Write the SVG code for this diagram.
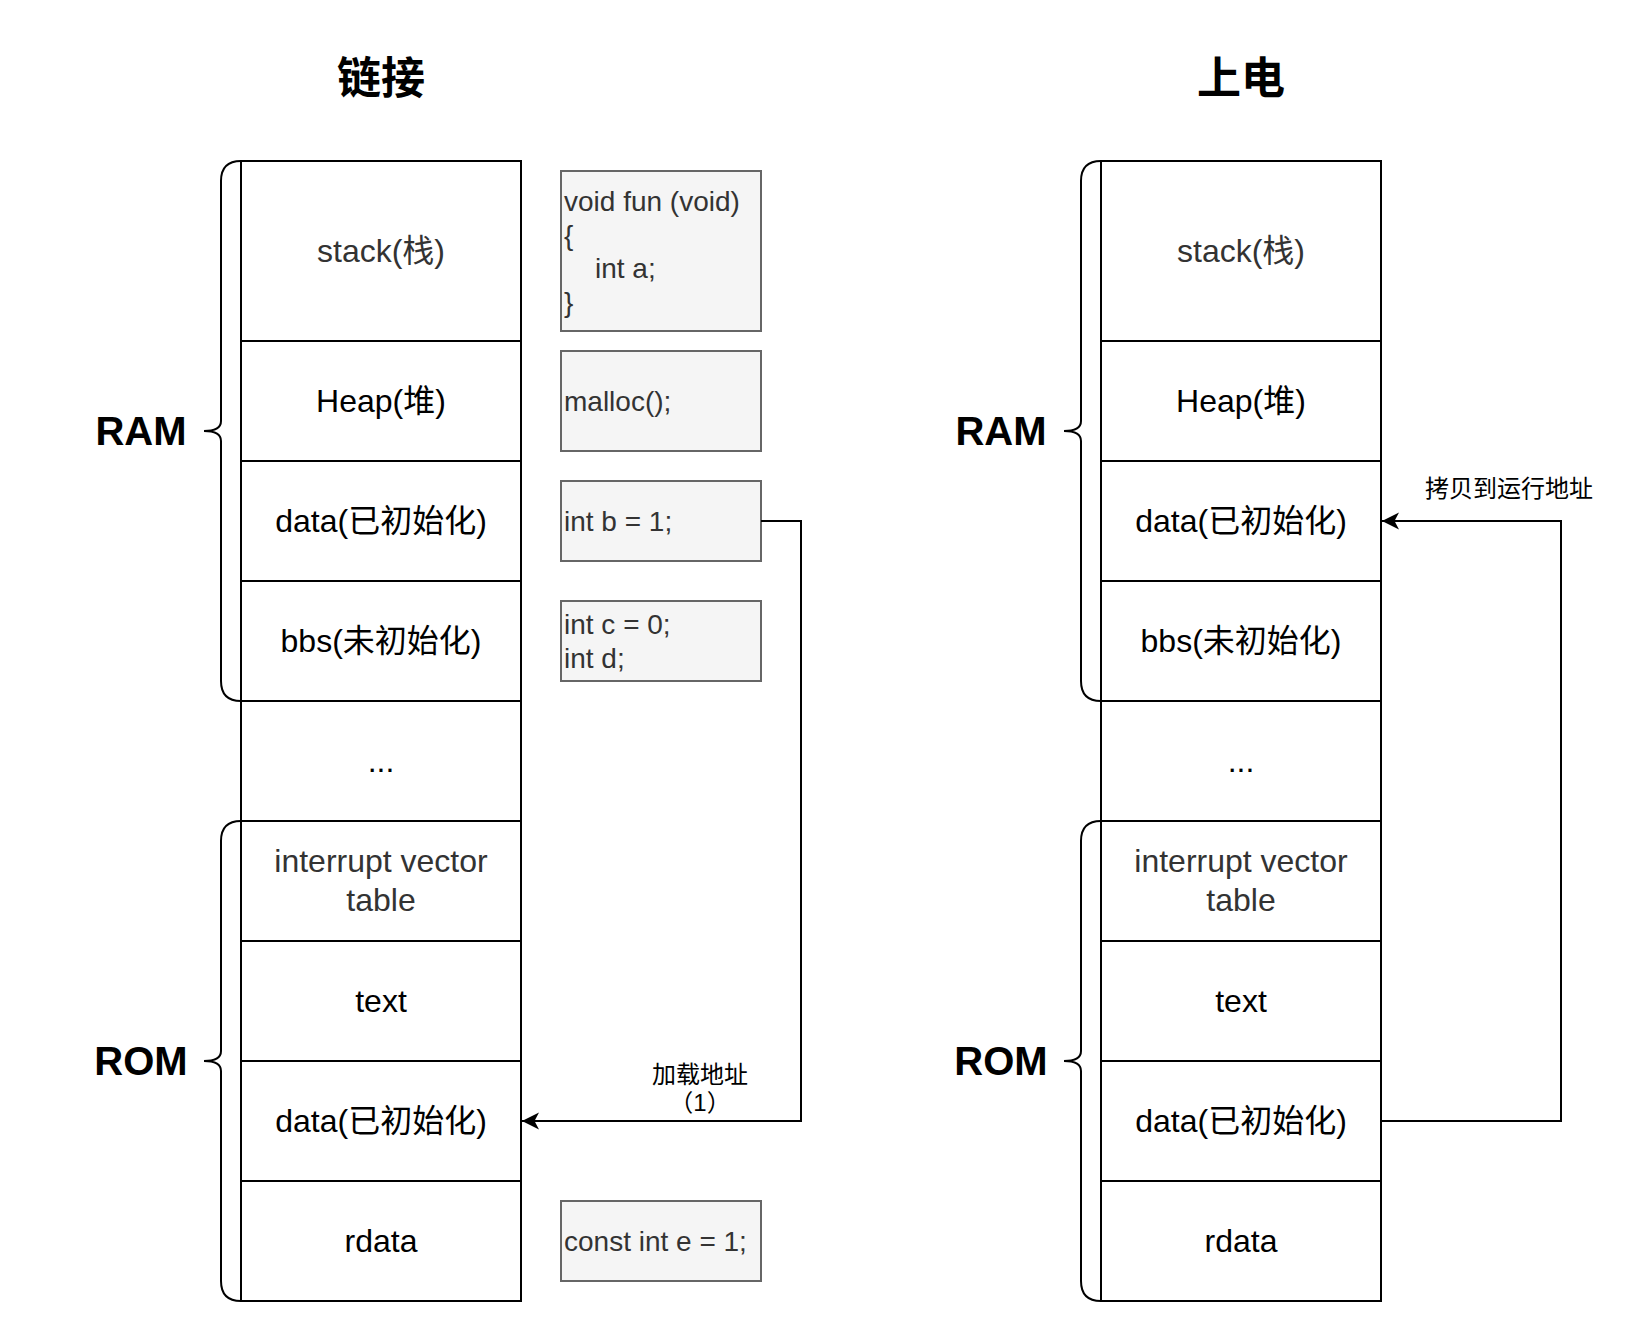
<svg xmlns="http://www.w3.org/2000/svg" width="1640" height="1342" viewBox="0 0 1640 1342">
<style>
text{font-family:"Liberation Sans","Noto Sans CJK SC",sans-serif}
.row{fill:#fff;stroke:#000;stroke-width:2}
.code{fill:#f5f5f5;stroke:#666;stroke-width:2}
.lbl{font-size:32px;fill:#000;text-anchor:middle}
.gl{fill:#333}
.ct{font-size:28px;fill:#333}
.brace{fill:none;stroke:#000;stroke-width:2}
.big{font-size:40px;font-weight:bold;text-anchor:middle;fill:#000}
.title{font-size:44px;font-weight:bold;text-anchor:middle;fill:#000;font-family:"Noto Sans CJK SC",sans-serif}
.edge{fill:none;stroke:#000;stroke-width:2}
.el{font-size:24px;fill:#000;text-anchor:middle}
</style>
<defs>
<marker id="arr" markerWidth="18" markerHeight="18" refX="17" refY="8.5" orient="auto" markerUnits="userSpaceOnUse"><path d="M0,0 L17,8.5 L0,17 L4.5,8.5 Z" fill="#000"/></marker>
</defs>
<rect width="1640" height="1342" fill="#fff"/>

<g id="title-link"><text class="title" x="381" y="94">链接</text></g>
<g id="title-power"><text class="title" x="1241" y="94">上电</text></g>

<g id="left-ram-brace">
<path class="brace" d="M241,161 Q221,161 221,181 L221,421 Q221,431 204,431 Q221,431 221,441 L221,681 Q221,701 241,701"/>
<text class="big" x="141" y="445">RAM</text>
</g>
<g id="left-rom-brace">
<path class="brace" d="M241,821 Q221,821 221,841 L221,1051 Q221,1061 204,1061 Q221,1061 221,1071 L221,1281 Q221,1301 241,1301"/>
<text class="big" x="141" y="1075">ROM</text>
</g>

<g id="left-stack"><rect class="row" x="241" y="161" width="280" height="180"/><text class="lbl gl" x="381" y="262">stack(栈)</text></g>
<g id="left-heap"><rect class="row" x="241" y="341" width="280" height="120"/><text class="lbl" x="381" y="412">Heap(堆)</text></g>
<g id="left-data-ram"><rect class="row" x="241" y="461" width="280" height="120"/><text class="lbl" x="381" y="532">data(已初始化)</text></g>
<g id="left-bbs"><rect class="row" x="241" y="581" width="280" height="120"/><text class="lbl" x="381" y="652">bbs(未初始化)</text></g>
<g id="left-dots"><rect class="row" x="241" y="701" width="280" height="120"/><text class="lbl" x="381" y="772">...</text></g>
<g id="left-ivt"><rect class="row" x="241" y="821" width="280" height="120"/><text class="lbl gl" x="381" y="872">interrupt vector</text><text class="lbl gl" x="381" y="911">table</text></g>
<g id="left-text"><rect class="row" x="241" y="941" width="280" height="120"/><text class="lbl" x="381" y="1012">text</text></g>
<g id="left-data-rom"><rect class="row" x="241" y="1061" width="280" height="120"/><text class="lbl" x="381" y="1132">data(已初始化)</text></g>
<g id="left-rdata"><rect class="row" x="241" y="1181" width="280" height="120"/><text class="lbl" x="381" y="1252">rdata</text></g>

<g id="code-fun"><rect class="code" x="561" y="171" width="200" height="160"/>
<text class="ct" x="564" y="211">void fun (void)</text>
<text class="ct" x="564" y="245">{</text>
<text class="ct" x="595" y="278">int a;</text>
<text class="ct" x="564" y="312">}</text></g>
<g id="code-malloc"><rect class="code" x="561" y="351" width="200" height="100"/><text class="ct" x="564" y="411">malloc();</text></g>
<g id="code-b"><rect class="code" x="561" y="481" width="200" height="80"/><text class="ct" x="564" y="531">int b = 1;</text></g>
<g id="code-cd"><rect class="code" x="561" y="601" width="200" height="80"/><text class="ct" x="564" y="634">int c = 0;</text><text class="ct" x="564" y="668">int d;</text></g>
<g id="code-e"><rect class="code" x="561" y="1201" width="200" height="80"/><text class="ct" x="564" y="1251">const int e = 1;</text></g>

<g id="right-ram-brace">
<path class="brace" d="M1101,161 Q1081,161 1081,181 L1081,421 Q1081,431 1064,431 Q1081,431 1081,441 L1081,681 Q1081,701 1101,701"/>
<text class="big" x="1001" y="445">RAM</text>
</g>
<g id="right-rom-brace">
<path class="brace" d="M1101,821 Q1081,821 1081,841 L1081,1051 Q1081,1061 1064,1061 Q1081,1061 1081,1071 L1081,1281 Q1081,1301 1101,1301"/>
<text class="big" x="1001" y="1075">ROM</text>
</g>

<g id="right-stack"><rect class="row" x="1101" y="161" width="280" height="180"/><text class="lbl gl" x="1241" y="262">stack(栈)</text></g>
<g id="right-heap"><rect class="row" x="1101" y="341" width="280" height="120"/><text class="lbl" x="1241" y="412">Heap(堆)</text></g>
<g id="right-data-ram"><rect class="row" x="1101" y="461" width="280" height="120"/><text class="lbl" x="1241" y="532">data(已初始化)</text></g>
<g id="right-bbs"><rect class="row" x="1101" y="581" width="280" height="120"/><text class="lbl" x="1241" y="652">bbs(未初始化)</text></g>
<g id="right-dots"><rect class="row" x="1101" y="701" width="280" height="120"/><text class="lbl" x="1241" y="772">...</text></g>
<g id="right-ivt"><rect class="row" x="1101" y="821" width="280" height="120"/><text class="lbl gl" x="1241" y="872">interrupt vector</text><text class="lbl gl" x="1241" y="911">table</text></g>
<g id="right-text"><rect class="row" x="1101" y="941" width="280" height="120"/><text class="lbl" x="1241" y="1012">text</text></g>
<g id="right-data-rom"><rect class="row" x="1101" y="1061" width="280" height="120"/><text class="lbl" x="1241" y="1132">data(已初始化)</text></g>
<g id="right-rdata"><rect class="row" x="1101" y="1181" width="280" height="120"/><text class="lbl" x="1241" y="1252">rdata</text></g>

<g id="connectors">
<path class="edge" d="M761,521 H801 V1121 H522" marker-end="url(#arr)"/>
<text class="el" x="700" y="1083">加载地址</text>
<text class="el" x="700" y="1111">（1）</text>
<path class="edge" d="M1381,1121 H1561 V521 H1382" marker-end="url(#arr)"/>
<text class="el" x="1509" y="497">拷贝到运行地址</text>
</g>
</svg>
